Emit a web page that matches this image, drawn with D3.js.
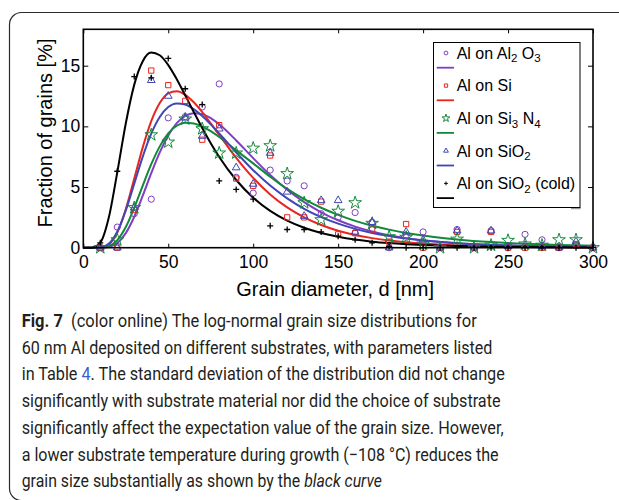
<!DOCTYPE html>
<html>
<head>
<meta charset="utf-8">
<script src="https://cdn.jsdelivr.net/npm/d3@7"></script>
<style>
  body { margin: 0; background: #fff; }
  svg { display: block; }
</style>
</head>
<body>
<svg id="chart" width="619" height="500"></svg>
<script>
// measured grain diameters (nm)
var diameters = [10, 20, 30, 40, 50, 60, 70, 80, 90, 100, 110, 120, 130, 140, 150,
                 160, 170, 180, 190, 200, 210, 220, 230, 240, 250, 260, 270, 280, 290, 300];

// measured fractions (%)
var al2o3 = [0, 1.7, 2.8, 4.0, 10.7, 10.8, 11.6, 13.5, 5.8, 4.5, 6.4, 5.5, 5.1, 2.8, 2.5,
             2.9, 2.1, 0, 1.0, 1.3, 0, 1.5, 0, 1.4, 0, 1.1, 0.65, 0, 0.2, 0];
var si = [0, 0, 3.1, 14.6, 13.4, 12.1, 8.9, 10.1, 5.7, 5.1, 7.6, 2.5, 2.5, 3.8, 1.1,
          1.2, 1.5, 0.5, 1.95, 0, 0, 1.3, 0, 1.3, 0, 0, 0, 0, 0.3, 0];
var si3n4 = [0, 0.65, 3.3, 9.3, 8.7, 10.6, 9.8, 7.8, 7.8, 8.2, 8.4, 6.1, 3.7, 2.3, 3.0,
             3.7, 2.0, 0.9, 0.85, 0.3, 0, 0.7, 0, 0.2, 0.6, 0.3, 0.2, 0.65, 0.65, 0];
var sio2 = [0, 0, 3.3, 13.8, 12.5, 10.7, 9.2, 9.8, 6.6, 5.25, 7.8, 4.6, 2.6, 3.9, 3.9,
            1.3, 2.1, 0, 1.3, 0.65, 0, 1.4, 0, 1.4, 0.1, 0.2, 0.1, 0, 0.5, 0];
var sio2Cold = [0.4, 6.3, 14.1, 14.0, 15.6, 13.1, 11.8, 5.5, 4.8, 4.0, 1.8, 1.5, 1.5, 1.3, 0.95,
                0.65, 0.4, 0.1, 0, 0, 0, 0, 0, 0, 0, 0, 0, 0, 0, 0];

// fitted log-normal curves
var fitX = [0, 5, 10, 15, 20, 25, 30, 35, 40, 45, 50, 55, 60, 65, 70, 75, 80, 90, 100, 110,
            120, 130, 140, 150, 160, 170, 180, 190, 200, 220, 240, 260, 280, 300];
var fitAl2o3 = [0, 0, 0, 0.06, 0.38, 1.20, 2.55, 4.29, 6.14, 7.85, 9.25, 10.26, 10.86, 11.09, 11.01, 10.68, 10.17, 8.84, 7.38, 5.99,
                4.77, 3.75, 2.92, 2.26, 1.74, 1.34, 1.03, 0.79, 0.61, 0.36, 0.22, 0.13, 0.08, 0.05];
var fitSi = [0, 0, 0.02, 0.27, 1.25, 3.17, 5.70, 8.27, 10.43, 11.92, 12.72, 12.89, 12.60, 11.99, 11.18, 10.25, 9.29, 7.40, 5.75, 4.39,
             3.32, 2.50, 1.87, 1.40, 1.05, 0.79, 0.59, 0.45, 0.34, 0.19, 0.11, 0.07, 0.04, 0.02];
var fitSi3n4 = [0, 0, 0.01, 0.12, 0.62, 1.70, 3.30, 5.12, 6.88, 8.35, 9.42, 10.05, 10.29, 10.23, 9.98, 9.60, 9.12, 8.02, 6.95, 5.85,
                4.85, 4.00, 3.29, 2.70, 2.21, 1.81, 1.49, 1.22, 1.00, 0.68, 0.46, 0.32, 0.22, 0.16];
var fitSio2 = [0, 0, 0.02, 0.32, 1.31, 3.07, 5.28, 7.51, 9.40, 10.77, 11.59, 11.89, 11.80, 11.42, 10.85, 10.16, 9.41, 7.85, 6.39, 5.12,
               4.07, 3.21, 2.52, 1.98, 1.55, 1.22, 0.96, 0.75, 0.60, 0.37, 0.24, 0.15, 0.10, 0.07];
var fitSio2Cold = [0, 0, 0.41, 2.48, 6.21, 10.24, 13.44, 15.37, 16.08, 15.86, 15.05, 13.89, 12.56, 11.19, 9.86, 8.61, 7.48, 5.58, 4.12, 3.03,
                   2.23, 1.64, 1.21, 0.90, 0.67, 0.50, 0.38, 0.29, 0.22, 0.13, 0.08, 0.05, 0.03, 0.02];

var xTicks = [0, 50, 100, 150, 200, 250, 300];
var yTicks = [0, 5, 10, 15];

// legend labels: [text, isSubscript] pieces
var legendLabels = [
  [["Al on Al", 0], ["2", 1], [" O", 0], ["3", 1]],
  [["Al on Si", 0]],
  [["Al on Si", 0], ["3", 1], [" N", 0], ["4", 1]],
  [["Al on SiO", 0], ["2", 1]],
  [["Al on SiO", 0], ["2", 1], [" (cold)", 0]]
];

// caption lines as styled pieces: [text, style, spaces before]
var captionLines = [
  [["Fig. 7", "bold", 0], ["(color online) The log-normal grain size distributions for", "", 2]],
  [["60 nm Al deposited on different substrates, with parameters listed", "", 0]],
  [["in Table", "", 0], ["4", "link", 1], [". The standard deviation of the distribution did not change", "", 0]],
  [["significantly with substrate material nor did the choice of substrate", "", 0]],
  [["significantly affect the expectation value of the grain size. However,", "", 0]],
  [["a lower substrate temperature during growth (\u2212108 \u00b0C) reduces the", "", 0]],
  [["grain size substantially as shown by the", "", 0], ["black curve", "italic", 1]]
];
var captionRight = [477, 492.7, 505, 501, 504, 499, 382];

var series = [
  { points: al2o3, fit: fitAl2o3, color: "#7f3fc4", mark: "circle" },
  { points: si, fit: fitSi, color: "#e8261e", mark: "square" },
  { points: si3n4, fit: fitSi3n4, color: "#13893a", mark: "star" },
  { points: sio2, fit: fitSio2, color: "#4146b4", mark: "triangle" },
  { points: sio2Cold, fit: fitSio2Cold, color: "#000000", mark: "plus" }
];

var svg = d3.select("#chart");

// rounded figure frame
svg.append("rect")
  .attr("x", 9.5).attr("y", 12.5)
  .attr("width", 660).attr("height", 488)
  .attr("rx", 12).attr("ry", 12)
  .attr("fill", "none")
  .attr("stroke", "#2b2b2b")
  .attr("stroke-width", 1.2);

var plotLeft = 83.3, plotRight = 593, plotTop = 29.3, plotBottom = 247.7;

var x = d3.scaleLinear().domain([0, 300]).range([plotLeft, plotRight]);
var y = d3.scaleLinear().domain([0, 18]).range([plotBottom, plotTop]);

var tickFont = "Liberation Sans, Arial, Helvetica, sans-serif";

// axes, ticks pointing inward
var gx = svg.append("g").attr("transform", "translate(0," + plotBottom + ")")
  .call(d3.axisBottom(x).tickValues(xTicks).tickSizeInner(-4).tickSizeOuter(0).tickPadding(7.5));
var gxTop = svg.append("g").attr("transform", "translate(0," + plotTop + ")")
  .call(d3.axisTop(x).tickValues(xTicks).tickSizeInner(-4).tickSizeOuter(0).tickFormat(""));
var gy = svg.append("g").attr("transform", "translate(" + plotLeft + ",0)")
  .call(d3.axisLeft(y).tickValues(yTicks).tickSizeInner(-5).tickSizeOuter(0).tickPadding(3));
var gyRight = svg.append("g").attr("transform", "translate(" + plotRight + ",0)")
  .call(d3.axisRight(y).tickValues(yTicks).tickSizeInner(-5).tickSizeOuter(0).tickFormat(""));

[gx, gxTop, gy, gyRight].forEach(function (g) {
  g.select(".domain").remove();
  g.selectAll(".tick line").attr("stroke", "#000").attr("stroke-width", 1);
  g.selectAll(".tick text")
    .attr("font-family", tickFont)
    .attr("font-size", 17.5)
    .attr("fill", "#000");
});

// fitted curves
var line = d3.line()
  .x(function (d) { return x(d[0]); })
  .y(function (d) { return y(d[1]); })
  .curve(d3.curveMonotoneX);

var curves = svg.append("g");
series.forEach(function (s) {
  curves.append("path")
    .datum(fitX.map(function (v, i) { return [v, s.fit[i]]; }))
    .attr("d", line)
    .attr("fill", "none")
    .attr("stroke", s.color)
    .attr("stroke-width", 2);
});

// marker shapes
function markerPath(kind, scale) {
  if (kind === "plus") {
    var h = 3 * scale;
    return "M" + (-h) + ",0H" + h + "M0," + (-h) + "V" + h;
  }
  var types = { circle: d3.symbolCircle, square: d3.symbolSquare, star: d3.symbolStar, triangle: d3.symbolTriangle };
  var sizes = { circle: 30, square: 28, star: 50, triangle: 26 };
  return d3.symbol().type(types[kind]).size(sizes[kind] * scale * scale)();
}

var marks = svg.append("g");
series.forEach(function (s) {
  marks.selectAll(null)
    .data(diameters.map(function (d, i) { return [d, s.points[i]]; }))
    .enter()
    .append("path")
    .attr("transform", function (d) { return "translate(" + x(d[0]) + "," + y(d[1]) + ")"; })
    .attr("d", markerPath(s.mark, 1))
    .attr("fill", "none")
    .attr("stroke", s.color)
    .attr("stroke-width", s.mark === "plus" ? 1.3 : 1);
});

// plot frame
svg.append("rect")
  .attr("x", plotLeft).attr("y", plotTop)
  .attr("width", plotRight - plotLeft).attr("height", plotBottom - plotTop)
  .attr("fill", "none")
  .attr("stroke", "#000")
  .attr("stroke-width", 1.6);

// axis titles
svg.append("text")
  .attr("x", (plotLeft + plotRight) / 2 - 3).attr("y", 296)
  .attr("text-anchor", "middle")
  .attr("font-family", tickFont).attr("font-size", 20)
  .text("Grain diameter, d [nm]");

svg.append("text")
  .attr("transform", "translate(52,133) rotate(-90)")
  .attr("text-anchor", "middle")
  .attr("font-family", tickFont).attr("font-size", 20)
  .text("Fraction of grains [%]");

// legend
var legend = svg.append("g");
legend.append("line")
  .attr("x1", 571).attr("x2", 580.5).attr("y1", 208.5).attr("y2", 208.5)
  .attr("stroke", "#999").attr("stroke-width", 1.5);
legend.append("rect")
  .attr("x", 433.5).attr("y", 42.5)
  .attr("width", 146.5).attr("height", 165)
  .attr("fill", "#fff")
  .attr("stroke", "#000").attr("stroke-width", 1);

series.forEach(function (s, i) {
  var rowY = 53 + i * 32.6;
  legend.append("path")
    .attr("transform", "translate(446," + rowY + ")")
    .attr("d", markerPath(s.mark, 0.62))
    .attr("fill", "none")
    .attr("stroke", s.color)
    .attr("stroke-width", 1);
  legend.append("line")
    .attr("x1", 436.7).attr("x2", 454)
    .attr("y1", rowY + 14.7).attr("y2", rowY + 14.7)
    .attr("stroke", s.color).attr("stroke-width", 1.8);
  var t = legend.append("text")
    .attr("x", 456.7).attr("y", rowY + 5.8)
    .attr("font-family", tickFont).attr("font-size", 16);
  var shifted = 0;
  legendLabels[i].forEach(function (piece) {
    var want = piece[1] ? 3.5 : 0;
    var ts = t.append("tspan").attr("dy", want - shifted).text(piece[0]);
    if (piece[1]) ts.attr("font-size", 11.5);
    shifted = want;
  });
});

// caption: each line is squeezed horizontally to its measured width
var capFont = "Roboto, 'Noto Sans', sans-serif";
var capLeft = 21.7;
var probe = svg.append("text").attr("font-family", capFont).attr("font-size", 18.5).text("a a");
var probeA = svg.append("text").attr("font-family", capFont).attr("font-size", 18.5).text("aa");
var spaceW = probe.node().getComputedTextLength() - probeA.node().getComputedTextLength();
probe.remove();
probeA.remove();

captionLines.forEach(function (pieces, i) {
  var baseY = 327 + i * 26.7;
  var g = svg.append("g");
  var cx = 0;
  pieces.forEach(function (p) {
    cx += p[2] * spaceW;
    var t = g.append("text")
      .attr("x", cx).attr("y", 0)
      .attr("font-family", capFont).attr("font-size", 18.5)
      .attr("fill", p[1] === "link" ? "#3a5fcd" : "#231f20")
      .text(p[0]);
    if (p[1] === "bold") t.attr("font-weight", "bold");
    if (p[1] === "italic") t.attr("font-style", "italic");
    cx += t.node().getComputedTextLength();
  });
  var k = (captionRight[i] - capLeft) / cx;
  g.attr("transform", "translate(" + capLeft + "," + baseY + ") scale(" + k + ",1)");
});
</script>
</body>
</html>
